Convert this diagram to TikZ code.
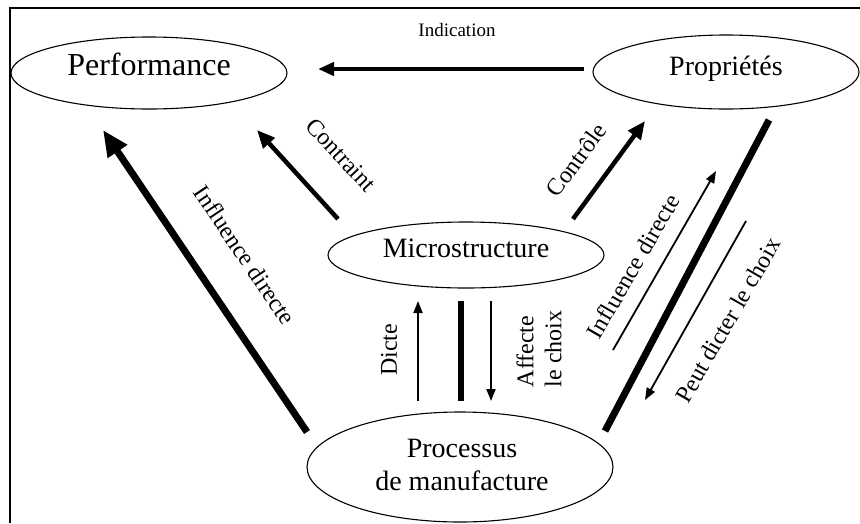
\documentclass[tikz,border=0pt]{standalone}
\usepackage{fontspec}
\setmainfont{Liberation Serif}
\usetikzlibrary{shapes.geometric,arrows.meta}
\begin{document}
\begin{tikzpicture}[x=1pt,y=-1pt,
  ell/.style={draw, ellipse, line width=1.1pt, inner sep=0pt},
  bigtext/.style={font=\fontsize{28}{33}\selectfont},
  lab/.style={font=\fontsize{24}{28}\selectfont, inner sep=0pt},
  heavyarrow/.style={line width=4.5pt, -{Triangle[length=18pt,width=15pt]}},
  hugearrow/.style={line width=7pt, -{Triangle[length=26pt,width=22pt]}},
  thinarrow/.style={line width=1.8pt, -{Triangle[length=12pt,width=9pt]}},
]
\useasboundingbox (0,0) rectangle (860,523);
\draw[line width=2pt] (10,523) -- (10,7.5) -- (860,7.5);

% ellipses
\node[ell, minimum width=276pt, minimum height=72pt, font=\fontsize{32}{38}\selectfont,
      text height=0.7em, text depth=0.2em] (perf) at (149,73) {Performance};
\node[ell, minimum width=266pt, minimum height=74pt, bigtext,
      text height=0.9em, text depth=0.2em] (prop) at (726,72) {Propriétés};
\node[ell, minimum width=276pt, minimum height=66pt, bigtext,
      text height=0.75em, text depth=0.2em] (micro) at (466,255) {Microstructure};
\node[ell, minimum width=306pt, minimum height=110pt] (proc) at (460,467) {};
\node[bigtext, align=center, inner sep=0pt] (proctext) at (462,465) {Processus\\de manufacture};

% coordinates
\coordinate (indA) at (584,69);  \coordinate (indB) at (318,69);
\coordinate (conA) at (338,219); \coordinate (conB) at (257,130);
\coordinate (infA) at (307,432); \coordinate (infB) at (103,130);
\coordinate (ctlA) at (573,219); \coordinate (ctlB) at (645,121);
\coordinate (thkA) at (769,120); \coordinate (thkB) at (605,431);
\coordinate (irA) at (613,350);  \coordinate (irB) at (716,171);
\coordinate (pdA) at (746,221);  \coordinate (pdB) at (645,400);
\coordinate (dcA) at (418,401);  \coordinate (dcB) at (418,301);
\coordinate (mdA) at (461,301);  \coordinate (mdB) at (461,401);
\coordinate (afA) at (491,301);  \coordinate (afB) at (491,401);

% connectors
\draw[line width=4.3pt, -{Triangle[length=16pt,width=13pt]}] (indA) -- (indB);
\draw[heavyarrow] (conA) -- (conB);
\draw[hugearrow] (infA) -- (infB);
\draw[heavyarrow] (ctlA) -- (ctlB);
\draw[line width=7pt] (thkA) -- (thkB);
\draw[thinarrow] (irA) -- (irB);
\draw[thinarrow] (pdA) -- (pdB);
\draw[thinarrow] (dcA) -- (dcB);
\draw[line width=5.5pt] (mdA) -- (mdB);
\draw[thinarrow] (afA) -- (afB);

% labels
\node[font=\fontsize{19}{23}\selectfont, inner sep=0pt] (indlab) at (457,30) {Indication};
\node[lab, rotate=-47] (conlab) at (341,155) {Contraint};
\node[lab, rotate=-56] (inflab) at (245,255) {Influence directe};
\node[lab, rotate=54] (ctllab) at (576,160) {Contrôle};
\node[lab, rotate=60] (irlab) at (633,266) {Influence directe};
\node[lab, rotate=60] (pdlab) at (728,320) {Peut dicter le choix};
\node[lab, rotate=90] (dclab) at (389,350) {Dicte};
\node[lab, rotate=90, align=left] (aflab) at (539,349) {Affecte\\le choix};
\end{tikzpicture}
\end{document}
